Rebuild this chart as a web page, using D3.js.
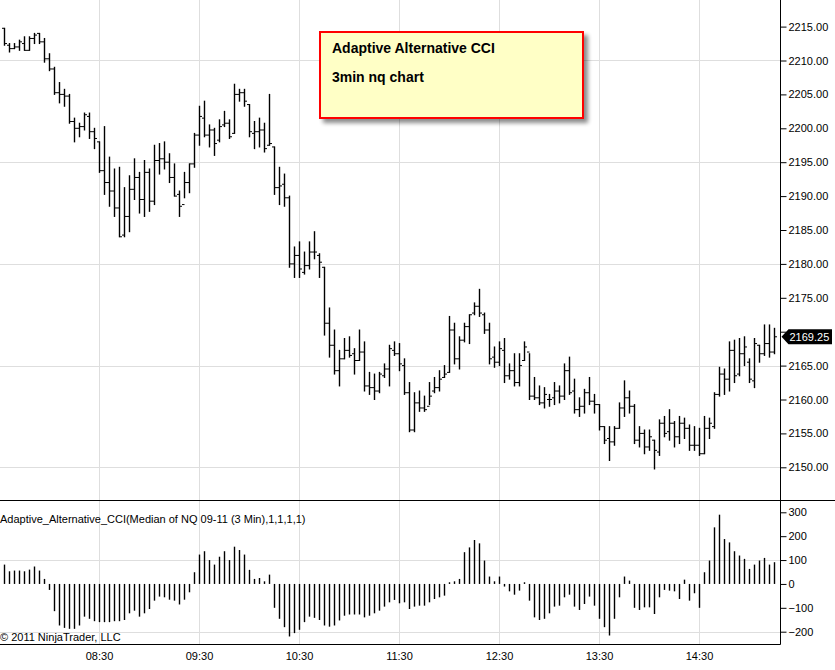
<!DOCTYPE html>
<html>
<head>
<meta charset="utf-8">
<script src="https://cdn.jsdelivr.net/npm/d3@7"></script>
<style>
  body { margin: 0; background: #fff; }
  svg { display: block; font-family: "Liberation Sans", Arial, sans-serif; }
</style>
</head>
<body>
<div id="chart"></div>
<script>
// ---- data (3 min NQ 09-11 bars) ----
const startTime = new Date(2011, 7, 26, 7, 33);
const barMinutes = 3;

const highs = [
  2214.75, 2212.5, 2212.5, 2213.0, 2213.5, 2213.5, 2214.0, 2214.0, 2213.25, 2211.0,
  2209.0, 2206.75, 2205.75, 2205.0, 2201.5, 2200.75, 2202.25, 2202.25, 2200.0, 2198.0,
  2200.25, 2195.75, 2194.0, 2194.25, 2191.25, 2193.0, 2195.5, 2193.5, 2195.25, 2194.0,
  2197.5, 2197.75, 2198.0, 2196.25, 2194.75, 2190.75, 2193.5, 2194.75, 2199.25, 2203.25,
  2204.0, 2200.5, 2200.0, 2201.25, 2202.5, 2201.25, 2206.5, 2205.75, 2205.75, 2203.5,
  2201.0, 2201.5, 2200.75, 2205.0, 2197.25, 2194.25, 2193.25, 2190.0, 2182.5, 2183.25,
  2181.75, 2183.25, 2184.75, 2181.5, 2179.5, 2173.5, 2170.25, 2167.25, 2169.0, 2169.25,
  2167.5, 2170.25, 2168.5, 2164.0, 2163.75, 2164.0, 2165.25, 2168.0, 2168.5, 2168.25,
  2166.0, 2162.5, 2161.0, 2161.25, 2160.5, 2162.5, 2163.25, 2164.25, 2165.0, 2172.25,
  2171.25, 2169.25, 2171.25, 2172.5, 2174.25, 2176.25, 2172.75, 2171.25, 2167.75, 2168.5,
  2169.0, 2165.25, 2166.75, 2166.75, 2168.5, 2166.75, 2163.25, 2162.0, 2161.75, 2160.75,
  2162.5, 2162.0, 2165.25, 2166.25, 2163.0, 2160.25, 2161.5, 2163.25, 2160.75, 2159.25,
  2156.0, 2156.0, 2156.0, 2159.5, 2162.75, 2161.25, 2159.25, 2156.0, 2155.5, 2155.5,
  2154.0, 2157.0, 2157.5, 2158.5, 2156.75, 2157.5, 2157.25, 2156.25, 2156.0, 2155.75,
  2157.5, 2157.25, 2161.0, 2164.75, 2164.5, 2168.5, 2168.75, 2169.0, 2169.25, 2166.0,
  2169.0, 2168.0, 2171.0, 2171.0, 2170.5
];
const lows = [
  2212.25, 2211.25, 2211.75, 2211.5, 2211.5, 2211.5, 2212.5, 2212.5, 2209.75, 2208.5,
  2205.0, 2203.75, 2203.25, 2200.75, 2198.0, 2198.75, 2199.75, 2198.5, 2197.0, 2193.5,
  2190.25, 2188.5, 2187.0, 2184.0, 2184.0, 2184.75, 2189.5, 2187.5, 2187.0, 2187.75,
  2188.75, 2193.25, 2194.0, 2192.0, 2190.0, 2187.0, 2189.75, 2190.5, 2194.25, 2197.5,
  2198.75, 2197.25, 2196.0, 2198.0, 2200.25, 2198.5, 2199.25, 2204.0, 2203.25, 2198.75,
  2197.0, 2197.25, 2196.5, 2197.5, 2190.25, 2188.75, 2188.5, 2179.5, 2178.0, 2178.0,
  2178.5, 2179.25, 2180.75, 2178.0, 2169.5, 2166.25, 2163.75, 2162.0, 2166.0, 2166.25,
  2163.75, 2165.75, 2161.25, 2160.75, 2160.0, 2161.0, 2163.25, 2162.0, 2166.5, 2164.25,
  2160.75, 2155.25, 2155.25, 2158.25, 2158.25, 2159.25, 2161.0, 2161.25, 2163.25, 2164.0,
  2165.25, 2164.5, 2168.5, 2168.25, 2172.5, 2172.25, 2169.75, 2165.25, 2164.75, 2165.0,
  2162.5, 2163.0, 2162.0, 2162.0, 2165.75, 2160.0, 2160.0, 2159.25, 2158.75, 2159.0,
  2159.25, 2159.5, 2160.0, 2160.75, 2158.0, 2157.5, 2158.0, 2159.25, 2158.0, 2155.5,
  2153.5, 2151.0, 2153.25, 2155.75, 2157.5, 2158.0, 2153.5, 2153.0, 2152.0, 2152.5,
  2149.75, 2151.75, 2154.5, 2154.0, 2153.0, 2153.5, 2154.25, 2152.5, 2152.5, 2151.75,
  2152.0, 2154.25, 2155.75, 2160.5, 2160.75, 2161.25, 2162.5, 2163.5, 2165.0, 2162.5,
  2161.75, 2165.5, 2166.5, 2166.25, 2166.75
];
const opens = [
  2214.75, 2212.25, 2211.75, 2212.0, 2212.5, 2211.5, 2213.25, 2214.0, 2212.75, 2210.25,
  2208.75, 2205.25, 2205.0, 2204.75, 2201.0, 2200.0, 2200.25, 2201.75, 2199.5, 2198.0,
  2193.75, 2192.0, 2190.75, 2188.25, 2184.25, 2187.0, 2191.0, 2192.75, 2189.5, 2193.5,
  2189.25, 2195.25, 2195.5, 2195.0, 2192.75, 2190.25, 2188.75, 2192.0, 2194.75, 2199.0,
  2201.5, 2199.0, 2199.75, 2198.25, 2200.5, 2200.75, 2199.25, 2205.0, 2205.25, 2203.5,
  2199.25, 2199.5, 2199.75, 2197.5, 2197.25, 2191.25, 2191.75, 2189.75, 2180.0, 2181.25,
  2178.75, 2179.75, 2181.75, 2181.25, 2179.5, 2171.25, 2168.0, 2164.25, 2166.0, 2167.25,
  2166.75, 2165.75, 2167.0, 2162.0, 2161.75, 2161.25, 2163.5, 2164.5, 2167.25, 2166.75,
  2165.0, 2161.0, 2155.5, 2159.5, 2158.75, 2159.0, 2161.25, 2161.75, 2163.25, 2164.0,
  2170.25, 2166.0, 2168.75, 2170.75, 2172.75, 2173.75, 2172.5, 2170.25, 2166.25, 2165.5,
  2167.25, 2163.5, 2164.25, 2162.5, 2165.75, 2167.0, 2160.5, 2160.25, 2159.5, 2160.0,
  2160.25, 2161.25, 2160.5, 2164.25, 2161.25, 2158.5, 2159.0, 2161.0, 2159.75, 2159.25,
  2156.0, 2154.25, 2153.75, 2155.75, 2158.75, 2160.25, 2159.0, 2154.0, 2155.0, 2153.0,
  2154.0, 2152.25, 2156.5, 2155.25, 2156.5, 2154.5, 2156.5, 2155.75, 2153.25, 2153.25,
  2152.0, 2155.75, 2156.0, 2160.75, 2163.75, 2163.0, 2167.25, 2163.75, 2166.75, 2165.5,
  2162.75, 2168.0, 2166.75, 2168.25, 2167.0
];
const closes = [
  2212.5, 2211.75, 2212.0, 2212.75, 2211.5, 2213.25, 2213.75, 2212.75, 2210.25, 2208.75,
  2205.25, 2205.0, 2204.75, 2201.0, 2200.0, 2200.25, 2202.0, 2199.5, 2198.5, 2193.75,
  2192.0, 2190.75, 2188.25, 2184.0, 2187.0, 2191.0, 2192.75, 2189.5, 2193.5, 2189.25,
  2195.25, 2195.5, 2195.0, 2192.75, 2190.0, 2188.5, 2192.0, 2194.75, 2199.0, 2201.75,
  2199.0, 2199.75, 2197.75, 2200.25, 2200.75, 2198.75, 2205.0, 2205.25, 2204.0, 2199.5,
  2199.5, 2199.75, 2197.0, 2197.75, 2191.25, 2191.5, 2189.75, 2180.0, 2181.25, 2179.25,
  2179.75, 2181.75, 2181.75, 2180.25, 2171.25, 2168.0, 2164.25, 2166.0, 2167.25, 2166.5,
  2165.75, 2167.0, 2162.0, 2161.75, 2161.25, 2163.75, 2164.5, 2167.5, 2166.75, 2165.25,
  2161.0, 2155.5, 2159.5, 2158.75, 2158.5, 2160.5, 2161.75, 2163.0, 2163.75, 2170.25,
  2166.0, 2168.75, 2170.75, 2172.5, 2173.75, 2172.75, 2170.25, 2166.0, 2165.5, 2167.5,
  2163.5, 2164.25, 2162.5, 2165.0, 2167.75, 2160.5, 2160.25, 2159.5, 2160.75, 2160.0,
  2161.25, 2160.5, 2164.25, 2161.0, 2158.5, 2159.0, 2161.0, 2159.75, 2159.25, 2156.0,
  2154.0, 2153.75, 2155.75, 2158.75, 2160.25, 2159.0, 2154.0, 2155.0, 2153.0, 2154.5,
  2152.5, 2156.5, 2155.0, 2156.5, 2154.5, 2156.5, 2155.75, 2153.25, 2153.25, 2152.0,
  2155.75, 2156.5, 2160.75, 2163.75, 2163.0, 2167.25, 2163.5, 2166.75, 2167.75, 2163.0,
  2168.25, 2166.75, 2168.25, 2167.0, 2169.25
];
// Adaptive alternative CCI histogram
const cci = [
  81, 53, 56, 56, 53, 60, 73, 56, 21, -25,
  -114, -174, -184, -188, -188, -174, -137, -146, -156, -160,
  -160, -160, -156, -156, -151, -123, -112, -137, -123, -105,
  -70, -53, -56, -66, -70, -86, -66, -35, 49, 123,
  137, 100, 81, 114, 137, 100, 156, 142, 123, 59,
  21, 25, 11, 39, -100, -146, -181, -220, -206, -192,
  -160, -137, -142, -151, -174, -179, -174, -153, -133, -128,
  -128, -128, -140, -133, -123, -112, -95, -77, -67, -81,
  -77, -105, -95, -91, -91, -77, -63, -56, -49, 7,
  11, 21, 133, 153, 184, 170, 98, 31, 11, 31,
  -11, -31, -45, -28, 7, -70, -140, -151, -146, -123,
  -95, -91, -56, -45, -95, -109, -84, -53, -91, -146,
  -181, -216, -146, -56, 31, 14, -100, -109, -98, -98,
  -126, -56, -25, -28, -31, -63, 18, -70, -39, -100,
  49, 98, 237, 290, 188, 174, 137, 119, 105, 63,
  81, 98, 109, 81, 91
];
const timeLabels = ["08:30", "09:30", "10:30", "11:30", "12:30", "13:30", "14:30"];
const priceTicks = d3.range(2150, 2216, 5);
const priceGrid = [2150, 2165, 2180, 2195, 2210];
const cciTicks = [-200, -100, 0, 100, 200, 300];
const cciGrid = [-200, 100];
const lastPrice = 2169.25;
const indicatorLabel = "Adaptive_Alternative_CCI(Median of NQ 09-11 (3 Min),1,1,1,1)";
const noteLines = ["Adaptive Alternative CCI", "3min nq chart"];

// ---- layout ----
const width = 835, height = 670;
const axisX = 780.5;
const panelSplit = 500.5;
const bottomY = 644.5;
const gridColor = "#dedede";

const times = highs.map((_, i) => new Date(+startTime + i * barMinutes * 60000));
const parseHM = s => {
  const [h, m] = s.split(":").map(Number);
  return new Date(2011, 7, 26, h, m);
};
const tickTimes = timeLabels.map(parseHM);

const x = d3.scaleTime()
  .domain([times[0], times[times.length - 1]])
  .range([4, 774]);
const y = d3.scaleLinear().domain([2150, 2215]).range([467.3, 26.6]);
const yc = d3.scaleLinear().domain([-200, 300]).range([631.7, 512.3]);

const svg = d3.select("#chart").append("svg")
  .attr("width", width)
  .attr("height", height);

svg.append("rect").attr("width", width).attr("height", height).attr("fill", "#fff");

const defs = svg.append("defs");
defs.append("filter").attr("id", "shadow")
  .attr("x", "-10%").attr("y", "-10%").attr("width", "130%").attr("height", "140%")
  .append("feGaussianBlur").attr("stdDeviation", 2);

// grid lines
const grid = svg.append("g").attr("stroke", gridColor).attr("stroke-width", 1);
grid.selectAll(".vg").data(tickTimes).enter().append("line")
  .attr("x1", d => Math.round(x(d)) + 0.5).attr("x2", d => Math.round(x(d)) + 0.5)
  .attr("y1", 0).attr("y2", bottomY);
grid.selectAll(".hg").data(priceGrid).enter().append("line")
  .attr("x1", 0).attr("x2", axisX)
  .attr("y1", d => Math.round(y(d)) + 0.5).attr("y2", d => Math.round(y(d)) + 0.5);
grid.selectAll(".cg").data(cciGrid).enter().append("line")
  .attr("x1", 0).attr("x2", axisX)
  .attr("y1", d => Math.round(yc(d)) + 0.5).attr("y2", d => Math.round(yc(d)) + 0.5);

// ---- OHLC bars ----
const bx = t => Math.round(x(t)) + 0.5;
const bars = svg.append("g").attr("stroke", "#000");
const barData = times.map((t, i) => ({ t, o: opens[i], h: highs[i], l: lows[i], c: closes[i] }));
bars.selectAll(".hl").data(barData).enter().append("line")
  .attr("x1", d => bx(d.t)).attr("x2", d => bx(d.t))
  .attr("y1", d => y(d.h) - 0.5).attr("y2", d => y(d.l) + 0.5)
  .attr("stroke-width", 1.4);
bars.selectAll(".op").data(barData).enter().append("line")
  .attr("x1", d => bx(d.t) - 2.5).attr("x2", d => bx(d.t))
  .attr("y1", d => y(d.o)).attr("y2", d => y(d.o))
  .attr("stroke-width", 1);
bars.selectAll(".cl").data(barData).enter().append("line")
  .attr("x1", d => bx(d.t)).attr("x2", d => bx(d.t) + 2.5)
  .attr("y1", d => y(d.c)).attr("y2", d => y(d.c))
  .attr("stroke-width", 1);

// ---- CCI histogram ----
svg.append("g").attr("stroke", "#000").attr("stroke-width", 1.4)
  .selectAll("line").data(cci).enter().append("line")
  .attr("x1", (d, i) => bx(times[i])).attr("x2", (d, i) => bx(times[i]))
  .attr("y1", yc(0)).attr("y2", d => yc(d));

// ---- axes ----
const priceAxis = d3.axisRight(y)
  .tickValues(priceTicks)
  .tickSize(6)
  .tickPadding(2)
  .tickFormat(d3.format(".2f"));
const pa = svg.append("g").attr("transform", `translate(${axisX},0)`).call(priceAxis);

const cciAxis = d3.axisRight(yc)
  .tickValues(cciTicks)
  .tickSize(6)
  .tickPadding(2)
  .tickFormat(d3.format("d"));
const ca = svg.append("g").attr("transform", `translate(${axisX},0)`).call(cciAxis);

const timeAxis = d3.axisBottom(x)
  .tickValues(tickTimes)
  .tickSize(0)
  .tickPadding(8)
  .tickFormat(d3.timeFormat("%H:%M"));
const ta = svg.append("g").attr("transform", `translate(0,${bottomY})`).call(timeAxis);

[pa, ca, ta].forEach(g => {
  g.select(".domain").remove();
  g.selectAll("text").attr("font-size", 11).attr("fill", "#000")
    .attr("font-family", "'Liberation Sans', Arial, sans-serif");
  g.selectAll(".tick line").attr("stroke", "#000");
});

// the last price flag sits over the nearest price label
const ly = y(lastPrice);
pa.selectAll(".tick").filter(d => Math.abs(y(d) - ly) < 10).select("text").remove();

// frame lines
svg.append("line").attr("x1", axisX).attr("x2", axisX).attr("y1", 0).attr("y2", bottomY)
  .attr("stroke", "#000");
svg.append("line").attr("x1", 0).attr("x2", width).attr("y1", panelSplit).attr("y2", panelSplit)
  .attr("stroke", "#000");
svg.append("line").attr("x1", 0).attr("x2", axisX).attr("y1", bottomY).attr("y2", bottomY)
  .attr("stroke", "#000");

// last price marker
svg.append("path")
  .attr("d", `M${axisX + 1},${ly} L${axisX + 8},${ly - 7.5} L832,${ly - 7.5} L832,${ly + 7.5} L${axisX + 8},${ly + 7.5} Z`)
  .attr("fill", "#000");
svg.append("text")
  .attr("x", 789.5).attr("y", ly).attr("dy", "0.36em")
  .attr("fill", "#fff").attr("font-size", 11)
  .text(d3.format(".2f")(lastPrice));

// indicator label and copyright
svg.append("text")
  .attr("x", 0).attr("y", 523)
  .attr("font-size", 11).attr("fill", "#000")
  .text(indicatorLabel);
svg.append("text")
  .attr("x", 0).attr("y", 641)
  .attr("font-size", 11).attr("fill", "#000")
  .text("\u00a9 2011 NinjaTrader, LLC");

// annotation box
const note = svg.append("g");
note.append("rect")
  .attr("x", 323).attr("y", 35).attr("width", 265).attr("height", 88)
  .attr("fill", "#000").attr("opacity", 0.45).attr("filter", "url(#shadow)");
note.append("rect")
  .attr("x", 320).attr("y", 32).attr("width", 263).attr("height", 86)
  .attr("fill", "#ffffc6").attr("stroke", "#ff0000").attr("stroke-width", 2);
note.selectAll("text").data(noteLines).enter().append("text")
  .attr("x", 332).attr("y", (d, i) => 53 + i * 29)
  .attr("font-size", 14).attr("font-weight", "bold").attr("fill", "#000")
  .text(d => d);
</script>
</body>
</html>
